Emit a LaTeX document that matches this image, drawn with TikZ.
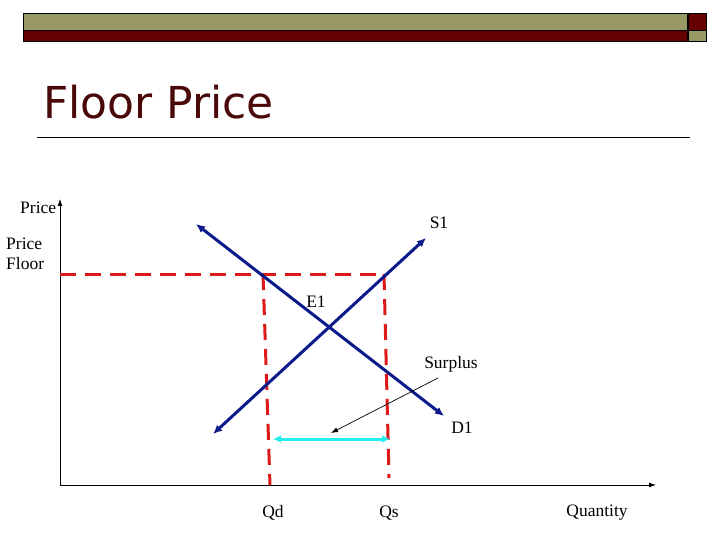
\documentclass[tikz,border=0pt]{standalone}
\usepackage{fontspec}
\setmainfont{Liberation Serif}
\newfontfamily\titlefont{DejaVu Sans}
\usetikzlibrary{arrows.meta}
\definecolor{olivebar}{HTML}{999966}
\definecolor{darkredbar}{HTML}{660000}
\definecolor{titlecol}{HTML}{4A0808}
\definecolor{curvecol}{HTML}{0A1A8A}
\definecolor{floorcol}{HTML}{DD1A1A}
\definecolor{surpcol}{HTML}{22EEEE}
\tikzset{
  bar/.style={draw=black, line width=0.8pt},
  curve/.style={draw=curvecol, line width=3pt, {Latex[length=9pt,width=8pt]}-{Latex[length=9pt,width=8pt]}},
  floorline/.style={draw=floorcol, line width=3pt, dash pattern=on 16pt off 9pt},
  axis/.style={draw=black, line width=0.8pt, -{Latex[length=7pt,width=5pt]}},
  lbl/.style={font=\fontsize{17.5}{19}\selectfont, inner sep=0pt},
  surpline/.style={draw=surpcol, line width=3pt, {Latex[length=8pt,width=8pt]}-{Latex[length=8pt,width=8pt]}},
  pointer/.style={draw=black, line width=0.7pt, -{Latex[length=7pt,width=5pt]}}
}
\begin{document}
\begin{tikzpicture}[x=1pt,y=-1pt]
\useasboundingbox (0,0) rectangle (720,540);
% header bar
\fill[olivebar] (23,13) rectangle (687,30);
\fill[darkredbar] (23,30) rectangle (687,41);
\draw[bar] (23,13) rectangle (687,41);
\draw[bar] (23,30) -- (687,30);
\fill[darkredbar] (688,13) rectangle (706,30);
\fill[olivebar] (688,30) rectangle (706,41);
\draw[bar] (688,13) rectangle (706,41);
\draw[bar] (688,30) -- (706,30);
% title
\node[anchor=base west, inner sep=0pt, text=titlecol, font=\titlefont\fontsize{44}{48}\selectfont] (title) at (43,119) {Floor Price};
\draw[line width=0.8pt] (37,137) -- (690,137);
% axes
\coordinate (O) at (60,485);
\coordinate (ytop) at (60,199);
\coordinate (xend) at (656,485);
\draw[axis] (O) -- (ytop);
\draw[axis] (O) -- (xend);
% price floor
\coordinate (pf0) at (60,274);
\coordinate (pfd) at (263,274);
\coordinate (pfs) at (384,274);
\coordinate (qd) at (270,485);
\coordinate (qs) at (389,478);
\draw[floorline] (pf0) -- (pfs);
\draw[floorline] (pfd) -- (qd);
\draw[floorline] (pfs) -- (qs);
% curves
\coordinate (s0) at (213,434);
\coordinate (s1) at (426,238);
\coordinate (d0) at (196,224);
\coordinate (d1) at (444,416);
\draw[curve] (s0) -- (s1);
\draw[curve] (d0) -- (d1);
% surplus
\coordinate (sa) at (273,439);
\coordinate (sb) at (390,439);
\draw[surpline] (sa) -- (sb);
\coordinate (pstart) at (438,378);
\coordinate (pend) at (331,433);
\draw[pointer] (pstart) -- (pend);
% labels
\node[lbl, anchor=west] (lprice) at (20,208) {Price};
\node[lbl, anchor=west, align=left] (lfloor) at (6,254) {Price\\[1pt]Floor};
\node[lbl] (ls1) at (439,223) {S1};
\node[lbl] (le1) at (316,302) {E1};
\node[lbl] (lsur) at (451,364) {Surplus};
\node[lbl] (ld1) at (462,428) {D1};
\node[lbl] (lqd) at (273,513) {Qd};
\node[lbl] (lqs) at (389,513) {Qs};
\node[lbl] (lq) at (597,513) {Quantity};
\end{tikzpicture}
\end{document}
